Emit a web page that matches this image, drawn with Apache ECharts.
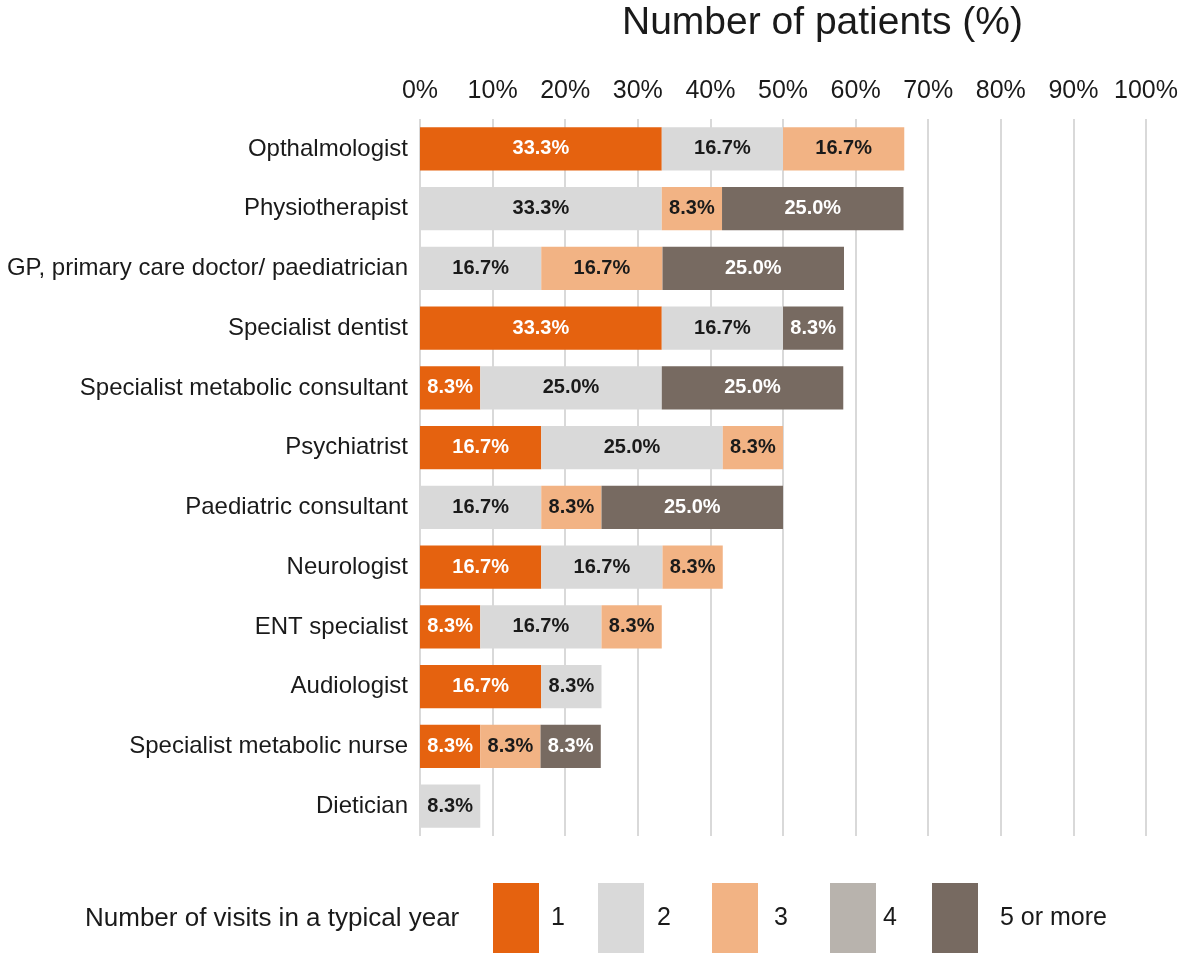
<!DOCTYPE html>
<html>
<head>
<meta charset="utf-8">
<script src="https://cdn.jsdelivr.net/npm/echarts@6/dist/echarts.min.js"></script>
<style>html,body{margin:0;padding:0;background:#fff}#c{width:1181px;height:953px}</style>
</head>
<body>
<div id="c"></div>
<script>
const categories = ['Opthalmologist','Physiotherapist','GP, primary care doctor/ paediatrician','Specialist dentist','Specialist metabolic consultant','Psychiatrist','Paediatric consultant','Neurologist','ENT specialist','Audiologist','Specialist metabolic nurse','Dietician'];
const seriesNames = ['1','2','3','4','5 or more'];
const visits1 = [33.3, null, null, 33.3, 8.3, 16.7, null, 16.7, 8.3, 16.7, 8.3, null];
const visits2 = [16.7, 33.3, 16.7, 16.7, 25.0, 25.0, 16.7, 16.7, 16.7, 8.3, null, 8.3];
const visits3 = [16.7, 8.3, 16.7, null, null, 8.3, 8.3, 8.3, 8.3, null, 8.3, null];
const visits4 = [null, null, null, null, null, null, null, null, null, null, null, null];
const visits5 = [null, 25.0, 25.0, 8.3, 25.0, null, 25.0, null, null, null, 8.3, null];
const tickValues = [0,10,20,30,40,50,60,70,80,90,100];

const colors = ['#E5620F','#D9D9D9','#F2B384','#B8B3AD','#776A61'];
const labelColors = ['#ffffff','#1a1a1a','#1a1a1a','#1a1a1a','#ffffff'];
const dataSets = [visits1, visits2, visits3, visits4, visits5];
const legendLeft = [493, 598, 712, 830, 932];
const legendPad = [7, 8, 11, 2, 17];

const font = "'Liberation Sans', Arial, sans-serif";

const chart = echarts.init(document.getElementById('c'), null, {renderer: 'canvas'});
chart.setOption({
  animation: false,
  color: colors,
  title: [
    {text: 'Number of patients (%)', left: 622, top: 4, padding: 0,
     textStyle: {fontFamily: font, fontSize: 39, fontWeight: 'normal', color: '#1a1a1a'}},
    {text: 'Number of visits in a typical year', left: 85, top: 906, padding: 0,
     textStyle: {fontFamily: font, fontSize: 26, fontWeight: 'normal', color: '#1a1a1a'}}
  ],
  legend: seriesNames.map((n, i) => ({
    data: [n], left: legendLeft[i], top: 883, padding: 0,
    icon: 'rect', itemWidth: 46, itemHeight: 70,
    selectedMode: false,
    textStyle: {fontFamily: font, fontSize: 25, color: '#1a1a1a', padding: [4,0,0,legendPad[i]]}
  })),
  grid: {left: 420, right: 34, top: 119, bottom: 117, containLabel: false},
  xAxis: {
    type: 'value', position: 'top', min: 0, max: 100, interval: 10,
    axisLine: {show: false}, axisTick: {show: false},
    axisLabel: {formatter: v => tickValues.includes(v) ? v + '%' : '', fontFamily: font, fontSize: 25, color: '#1a1a1a', margin: 15},
    splitLine: {show: true, lineStyle: {color: '#D9D9D9', width: 2}}
  },
  yAxis: {
    type: 'category', data: categories, inverse: true,
    axisLine: {show: false}, axisTick: {show: false},
    axisLabel: {fontFamily: font, fontSize: 24, color: '#1a1a1a', margin: 12}
  },
  series: seriesNames.map((n, i) => ({
    name: n, type: 'bar', stack: 'total', data: dataSets[i],
    barCategoryGap: '28%',
    itemStyle: {color: colors[i]},
    label: {
      show: true, position: 'inside',
      formatter: p => (p.value == null ? '' : p.value.toFixed(1) + '%'),
      fontFamily: font, fontWeight: 'bold', fontSize: 20, color: labelColors[i]
    }
  }))
});
</script>
</body>
</html>
